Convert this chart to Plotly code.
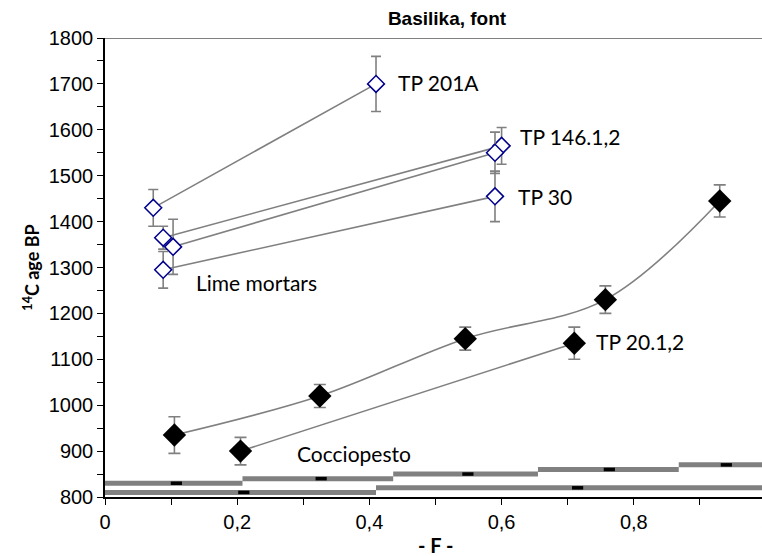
import plotly.graph_objects as go

# ---- Lime mortars (open diamonds): pairs of (start, end) points ----
lime_names = ["TP 201A", "TP 146.1", "TP 146.2", "TP 30"]
lime_f0 = [0.073, 0.088, 0.103, 0.088]
lime_age0 = [1430, 1365, 1345, 1295]
lime_err0 = [40, 25, 60, 40]
lime_f1 = [0.41, 0.60, 0.59, 0.59]
lime_age1 = [1700, 1565, 1550, 1455]
lime_err1 = [60, 40, 45, 55]

# ---- Cocciopesto (filled diamonds) ----
coc_a_f = [0.105, 0.325, 0.545, 0.757, 0.93]
coc_a_age = [935, 1020, 1145, 1230, 1445]
coc_a_err = [40, 25, 25, 30, 35]
coc_b_f = [0.205, 0.71]
coc_b_age = [900, 1135]
coc_b_err = [30, 35]

# ---- F-range bars at the bottom ----
bar_lo = [0.0, 0.208, 0.436, 0.655, 0.868, 0.0, 0.41]
bar_hi = [0.208, 0.436, 0.655, 0.868, 1.0, 0.41, 1.0]
bar_level = [830, 840, 850, 860, 870, 810, 820]
bar_mark = [0.108, 0.327, 0.549, 0.763, 0.94, 0.21, 0.715]

# ---- labels ----
ann_text = ["TP 201A", "TP 146.1,2", "TP 30", "Lime mortars", "TP 20.1,2", "Cocciopesto"]
ann_x = [0.44, 0.625, 0.622, 0.135, 0.74, 0.288]
ann_y = [1703, 1585, 1455, 1268, 1138, 895]

x_tickvals = [0, 0.2, 0.4, 0.6, 0.8]
x_ticktext = ["0", "0,2", "0,4", "0,6", "0,8"]

GRAY = "#808080"
NAVY = "#00008B"

# plot area geometry (px)
L, R_EDGE, T, B = 105, 762, 38, 497
W, H = 762, 556
UNIT_X = 661.0  # px for F = 1
x_max = (R_EDGE - L) / UNIT_X

fig = go.Figure()

# bars
for lo, hi, lv in zip(bar_lo, bar_hi, bar_level):
    fig.add_trace(go.Scatter(x=[lo, hi], y=[lv, lv], mode="lines",
                             line=dict(color=GRAY, width=5), showlegend=False,
                             hoverinfo="skip"))
fig.add_trace(go.Scatter(x=bar_mark, y=bar_level, mode="markers",
                         marker=dict(symbol="line-ew", size=8,
                                     line=dict(color="black", width=3.5)),
                         showlegend=False))

# lime mortar lines
for i in range(len(lime_names)):
    fig.add_trace(go.Scatter(
        x=[lime_f0[i], lime_f1[i]], y=[lime_age0[i], lime_age1[i]],
        mode="lines+markers",
        line=dict(color=GRAY, width=1.6),
        marker=dict(symbol="diamond", size=13, color="white",
                    line=dict(color=NAVY, width=1.5)),
        error_y=dict(type="data", array=[lime_err0[i], lime_err1[i]],
                     color=GRAY, thickness=1.6, width=5),
        showlegend=False, name=lime_names[i]))

# cocciopesto
fig.add_trace(go.Scatter(
    x=coc_a_f, y=coc_a_age, mode="lines+markers",
    line=dict(color=GRAY, width=1.6, shape="spline", smoothing=1),
    marker=dict(symbol="diamond", size=18, color="black"),
    error_y=dict(type="data", array=coc_a_err, color=GRAY, thickness=1.6, width=6),
    showlegend=False))
fig.add_trace(go.Scatter(
    x=coc_b_f, y=coc_b_age, mode="lines+markers",
    line=dict(color=GRAY, width=1.6),
    marker=dict(symbol="diamond", size=18, color="black"),
    error_y=dict(type="data", array=coc_b_err, color=GRAY, thickness=1.6, width=6),
    showlegend=False))

for t, x, y in zip(ann_text, ann_x, ann_y):
    fig.add_annotation(x=x, y=y, text=t, showarrow=False, xanchor="left",
                       yanchor="middle", font=dict(family="Lato", size=21, color="black"))

# top gray line at 1800
fig.add_shape(type="line", xref="paper", x0=0, x1=1, yref="y", y0=1800, y1=1800,
              line=dict(color=GRAY, width=2))

pw, ph = R_EDGE - L, B - T
# partially visible "1" tick label at the right edge
fig.add_annotation(xref="paper", yref="paper", x=UNIT_X / pw, y=(B - 521) / ph,
                   text="1", showarrow=False, xanchor="center", yanchor="middle",
                   font=dict(family="Liberation Sans", size=20, color="black"))
# x axis title
fig.add_annotation(xref="paper", yref="paper", x=(435 - L) / pw, y=(B - 545) / ph,
                   text="<b>- F -</b>", showarrow=False, xanchor="center", yanchor="middle",
                   font=dict(family="Lato", size=20, color="black"))

fig.update_layout(
    width=W, height=H,
    margin=dict(l=L, r=W - R_EDGE, t=T, b=H - B),
    plot_bgcolor="white", paper_bgcolor="white",
    title=dict(text="<b>Basilika, font</b>", x=447 / W, xanchor="center",
               y=1 - 18 / H, yanchor="middle", yref="container",
               font=dict(family="Liberation Sans", size=19, color="black")),
    font=dict(family="Liberation Sans", size=20, color="black"),
)
fig.update_xaxes(range=[0, x_max], showgrid=False, zeroline=False,
                 showline=True, linecolor="black", linewidth=1.5,
                 ticks="outside", ticklen=6, tickcolor="black",
                 tickvals=x_tickvals, ticktext=x_ticktext,
                 tickfont=dict(family="Liberation Sans", size=20),
                 minor=dict(ticks="outside", ticklen=6, tickcolor="black", dtick=0.1, tick0=0),
                 automargin=False)
fig.update_yaxes(range=[800, 1800], showgrid=False, zeroline=False,
                 showline=True, linecolor="black", linewidth=1.5,
                 ticks="outside", ticklen=6, tickcolor="black", dtick=100,
                 tickfont=dict(family="Liberation Sans", size=20),
                 minor=dict(ticks="outside", ticklen=6, tickcolor="black", dtick=50),
                 title=dict(text="<b><sup>14</sup>C age BP</b>",
                            font=dict(family="Lato", size=18, color="black"), standoff=4),
                 automargin=False)

fig.write_html("out.html")
